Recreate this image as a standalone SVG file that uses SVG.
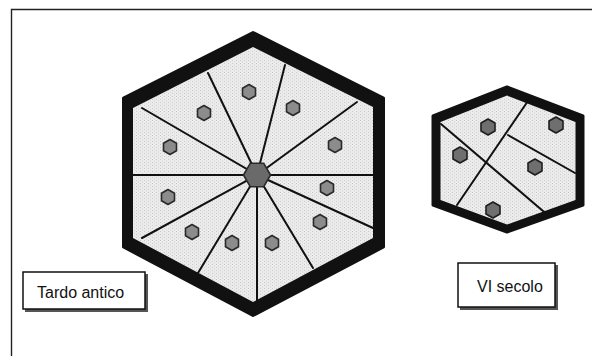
<svg xmlns="http://www.w3.org/2000/svg" width="592" height="356" viewBox="0 0 592 356">
  <defs>
    <pattern id="tex" width="4" height="3" patternUnits="userSpaceOnUse">
      <rect width="4" height="3" fill="#ececec"/>
      <rect x="0" y="0" width="1" height="1" fill="#c8c8c8"/>
      <rect x="2" y="1.5" width="1" height="1" fill="#d2d2d2"/>
    </pattern>
    <polygon id="dotL" points="0,-7.5 6.5,-3.75 6.5,3.75 0,7.5 -6.5,3.75 -6.5,-3.75"/>
    <polygon id="dotS" points="0,-8 7,-4 7,4 0,8 -7,4 -7,-4"/>
  </defs>
  <style>
    .frame { fill: none; stroke: #222; stroke-width: 1.4; }
    .border { fill: #111; stroke: #111; stroke-width: 3; stroke-linejoin: round; }
    .face { fill: url(#tex); }
    .spoke { stroke: #111; stroke-width: 2; fill: none; stroke-linecap: round; }
    .dotL { fill: #8c8c8c; stroke: #2a2a2a; stroke-width: 1.6; stroke-linejoin: round; }
    .dotS { fill: #6f6f6f; stroke: #1e1e1e; stroke-width: 1.6; stroke-linejoin: round; }
    .hub { fill: #6a6a6a; stroke: #2a2a2a; stroke-width: 1.6; stroke-linejoin: round; }
    .box { fill: #fff; stroke: #111; stroke-width: 1.5; }
    .shadow { fill: #555; }
    .lbl { font-family: "Liberation Sans", Arial, sans-serif; font-size: 16px; fill: #111; }
  </style>
  <rect fill="#fff" width="592" height="356"/>
  <g id="frame">
    <polyline class="frame" points="11.5,360 11.5,9.5 600,9.5"/>
  </g>

  <g id="tardo-antico-hexagon">
    <polygon class="border" points="253,32.5 383.5,98 383.5,247 253,315.5 123.5,247 123.5,98"/>
    <polygon class="face" points="253,47 373,107 373,238 253,302 133,238 133,108"/>
    <g id="spokes-large">
      <line class="spoke" x1="257" y1="175" x2="133" y2="175"/>
      <line class="spoke" x1="257" y1="175" x2="373" y2="175"/>
      <line class="spoke" x1="257" y1="175" x2="142" y2="108"/>
      <line class="spoke" x1="257" y1="175" x2="208" y2="73"/>
      <line class="spoke" x1="257" y1="175" x2="285" y2="65"/>
      <line class="spoke" x1="257" y1="175" x2="357" y2="102"/>
      <line class="spoke" x1="257" y1="175" x2="373" y2="228"/>
      <line class="spoke" x1="257" y1="175" x2="313" y2="268"/>
      <line class="spoke" x1="257" y1="175" x2="257" y2="302"/>
      <line class="spoke" x1="257" y1="175" x2="198" y2="273"/>
      <line class="spoke" x1="257" y1="175" x2="142" y2="238"/>
    </g>
    <polygon id="hub" class="hub" points="270.5,175 263.75,186.7 250.25,186.7 243.5,175 250.25,163.3 263.75,163.3"/>
    <g id="dots-large">
      <use href="#dotL" class="dotL" x="249" y="92"/>
      <use href="#dotL" class="dotL" x="204" y="113"/>
      <use href="#dotL" class="dotL" x="293" y="108"/>
      <use href="#dotL" class="dotL" x="170" y="147"/>
      <use href="#dotL" class="dotL" x="335" y="145"/>
      <use href="#dotL" class="dotL" x="168" y="197"/>
      <use href="#dotL" class="dotL" x="327" y="188"/>
      <use href="#dotL" class="dotL" x="192" y="232"/>
      <use href="#dotL" class="dotL" x="320" y="222"/>
      <use href="#dotL" class="dotL" x="232" y="243"/>
      <use href="#dotL" class="dotL" x="272" y="243"/>
    </g>
  </g>

  <g id="vi-secolo-hexagon">
    <polygon class="border" points="507,87 583,116 583,205 507,232 433,205 433,116"/>
    <polygon class="face" points="507,95.5 575.5,122 575.5,200 507,224.5 440.5,200 440.5,122"/>
    <g id="lines-small">
      <line class="spoke" x1="441" y1="124" x2="550" y2="217"/>
      <line class="spoke" x1="530" y1="98" x2="457" y2="205"/>
      <line class="spoke" x1="508" y1="135" x2="575" y2="173"/>
    </g>
    <g id="dots-small">
      <use href="#dotS" class="dotS" x="488" y="127"/>
      <use href="#dotS" class="dotS" x="556" y="125"/>
      <use href="#dotS" class="dotS" x="460" y="155"/>
      <use href="#dotS" class="dotS" x="535" y="167"/>
      <use href="#dotS" class="dotS" x="493" y="210"/>
    </g>
  </g>

  <g id="label-tardo-antico">
    <rect class="shadow" x="25" y="274" width="123" height="38"/>
    <rect class="box" x="23" y="272" width="122" height="37"/>
    <text class="lbl" x="37" y="298">Tardo antico</text>
  </g>
  <g id="label-vi-secolo">
    <rect class="shadow" x="460" y="265" width="98" height="45"/>
    <rect class="box" x="458" y="263" width="97" height="44"/>
    <text class="lbl" x="477" y="292">VI secolo</text>
  </g>
</svg>
